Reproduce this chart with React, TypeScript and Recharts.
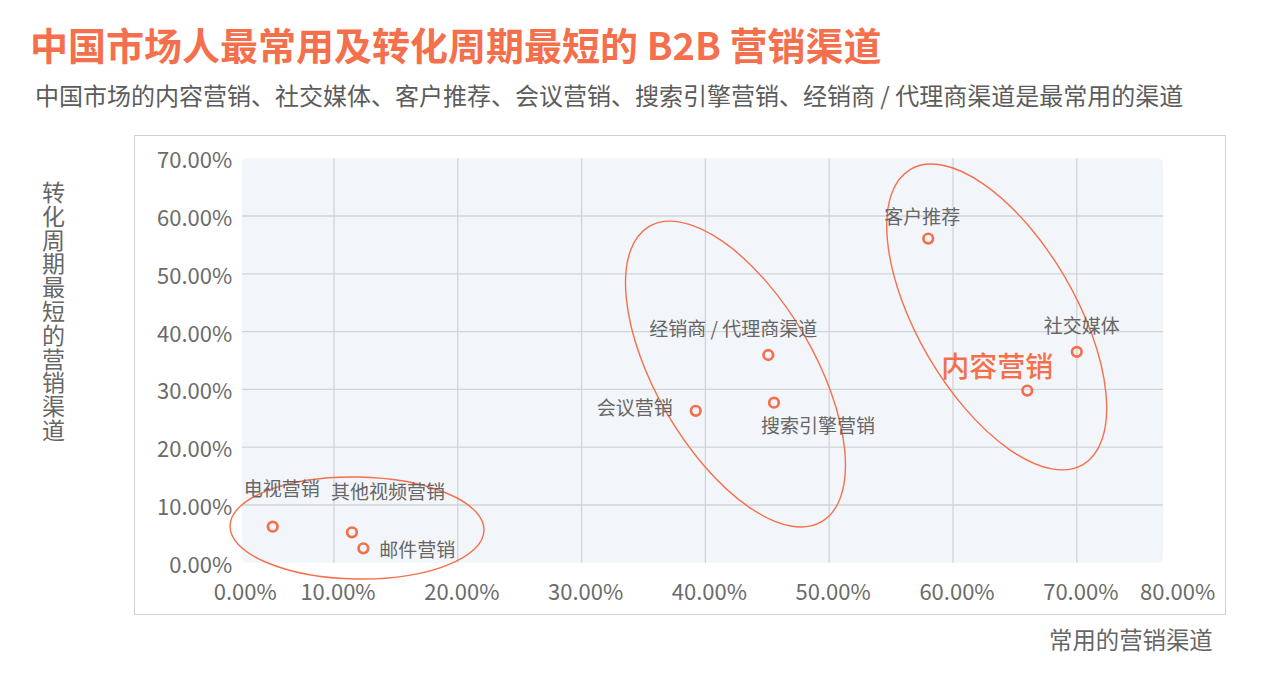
import {
  ScatterChart,
  Scatter,
  XAxis,
  YAxis,
  ReferenceArea,
  ReferenceLine,
} from "recharts";

// channel names, % most used (x) and % shortest conversion cycle (y)
const channels = [
  "电视营销",
  "其他视频营销",
  "邮件营销",
  "会议营销",
  "经销商 / 代理商渠道",
  "搜索引擎营销",
  "客户推荐",
  "内容营销",
  "社交媒体",
];
const mostUsed = [5.05, 11.45, 12.37, 39.22, 45.08, 45.54, 58.0, 66.0, 70.0];
const shortCycle = [6.25, 5.28, 2.51, 26.3, 35.95, 27.7, 56.1, 29.8, 36.5];

const xTicks = [0, 10, 20, 30, 40, 50, 60, 70, 80];
const yTicks = [0, 10, 20, 30, 40, 50, 60, 70];
const xGrid = [10, 20, 30, 40, 50, 60, 70];
const yGrid = [10, 20, 30, 40, 50, 60];

// group outlines (centres in data units)
const groupX = [11.86, 42.43, 63.53];
const groupY = [6.02, 32.66, 42.53];

const ORANGE = "#f4704d";
const GRAY = "#666";
const FONT = '"Noto Sans CJK SC", "Noto Sans", sans-serif';

const PLOT_X0 = 2.57;
const PLOT_X1 = 76.96;

const data = channels.map((name, i) => ({ name, x: mostUsed[i], y: shortCycle[i] }));
const groups = groupX.map((x, i) => ({ x, y: groupY[i], id: i }));

// label placement relative to the point (pixels)
const labelPos: Record<string, { dx: number; dy: number; anchor?: string }> = {
  电视营销: { dx: 9, dy: -39 },
  其他视频营销: { dx: 36, dy: -42 },
  邮件营销: { dx: 16, dy: 0, anchor: "start" },
  会议营销: { dx: -23, dy: -4, anchor: "end" },
  "经销商 / 代理商渠道": { dx: -35, dy: -28 },
  搜索引擎营销: { dx: 44, dy: 22 },
  客户推荐: { dx: -6, dy: -23 },
  内容营销: { dx: -30, dy: -26 },
  社交媒体: { dx: 5, dy: -27 },
};

const groupShape = [
  { rx: 127, ry: 51, rot: 1 },
  { rx: 171, ry: 79, rot: 59.7 },
  { rx: 171, ry: 79, rot: 59.7 },
];

const fmt = (v: number) => `${v.toFixed(2)}%`;

const PointShape = (props: any) => {
  const { cx, cy, payload } = props;
  const p = labelPos[payload.name] || { dx: 0, dy: -20 };
  const big = payload.name === "内容营销";
  return (
    <g>
      <circle cx={cx} cy={cy} r={4.8} fill="none" stroke={ORANGE} strokeWidth={2.7} />
      <text
        x={cx + p.dx}
        y={cy + p.dy}
        textAnchor={p.anchor || "middle"}
        dominantBaseline="central"
        fontFamily={FONT}
        fontSize={big ? 28 : 19}
        fontWeight={big ? 500 : 400}
        fill={big ? ORANGE : GRAY}
      >
        {payload.name}
      </text>
    </g>
  );
};

const GroupShape = (props: any) => {
  const { cx, cy, payload } = props;
  const s = groupShape[payload.id];
  return (
    <ellipse
      cx={cx}
      cy={cy}
      rx={s.rx}
      ry={s.ry}
      transform={`rotate(${s.rot} ${cx} ${cy})`}
      fill="none"
      stroke={ORANGE}
      strokeWidth={1.4}
    />
  );
};

const XTick = (props: any) => {
  const { x, y, payload } = props;
  const v = payload.value;
  const shift = v === 0 ? 35 : v === 80 ? -23 : 4;
  return (
    <text
      x={x + shift}
      y={y + 27}
      textAnchor="middle"
      dominantBaseline="central"
      fontFamily={FONT}
      fontSize={22}
      fill="#6b6b6b"
    >
      {fmt(v)}
    </text>
  );
};

const YTick = (props: any) => {
  const { x, y, payload } = props;
  return (
    <text
      x={x + 22}
      y={y}
      textAnchor="end"
      dominantBaseline="central"
      fontFamily={FONT}
      fontSize={22}
      fill="#6b6b6b"
    >
      {fmt(payload.value)}
    </text>
  );
};

export default function App() {
  return (
    <div
      style={{
        position: "relative",
        width: 1287,
        height: 676,
        background: "#fff",
        fontFamily: FONT,
        overflow: "hidden",
      }}
    >
      <style>{`body{margin:0}`}</style>
      <div
        style={{
          position: "absolute",
          left: 30,
          top: 20,
          fontSize: 38,
          lineHeight: "48px",
          fontWeight: 700,
          color: ORANGE,
          whiteSpace: "nowrap",
        }}
      >
        中国市场人最常用及转化周期最短的 B2B 营销渠道
      </div>
      <div
        style={{
          position: "absolute",
          left: 35,
          top: 80,
          fontSize: 24,
          lineHeight: "30px",
          color: "#5c5c5c",
          whiteSpace: "nowrap",
        }}
      >
        中国市场的内容营销、社交媒体、客户推荐、会议营销、搜索引擎营销、经销商 / 代理商渠道是最常用的渠道
      </div>
      <div
        style={{
          position: "absolute",
          left: 134,
          top: 135,
          width: 1090,
          height: 478,
          border: "1.5px solid #d2d2d2",
        }}
      />
      <div
        style={{
          position: "absolute",
          left: 42,
          top: 180,
          width: 23,
          fontSize: 23,
          lineHeight: "23.8px",
          color: GRAY,
          wordBreak: "break-all",
        }}
      >
        转化周期最短的营销渠道
      </div>
      <div
        style={{
          position: "absolute",
          left: 1049,
          top: 624,
          fontSize: 23.4,
          lineHeight: "30px",
          color: GRAY,
          whiteSpace: "nowrap",
        }}
      >
        常用的营销渠道
      </div>
      <div style={{ position: "absolute", left: 0, top: 0 }}>
        <ScatterChart
          width={1287}
          height={676}
          margin={{ top: 158.2, right: 86.4, left: 110.2, bottom: 73.2 }}
        >
          <XAxis
            type="number"
            dataKey="x"
            domain={[0, 80]}
            ticks={xTicks}
            axisLine={false}
            tickLine={false}
            tickSize={0}
            tickMargin={0}
            height={40}
            tick={<XTick />}
            interval={0}
          />
          <YAxis
            type="number"
            dataKey="y"
            domain={[0, 70]}
            ticks={yTicks}
            axisLine={false}
            tickLine={false}
            tickSize={0}
            tickMargin={0}
            width={100}
            tick={<YTick />}
            interval={0}
          />
          <ReferenceArea
            x1={PLOT_X0}
            x2={PLOT_X1}
            y1={0}
            y2={70}
            fill="#f2f5f9"
            fillOpacity={1}
            stroke="none"
            radius={5}
            ifOverflow="visible"
          />
          {xGrid.map((v) => (
            <ReferenceLine key={`vx${v}`} x={v} stroke="#d1d4d8" strokeWidth={1.3} />
          ))}
          {yGrid.map((v) => (
            <ReferenceLine
              key={`hy${v}`}
              segment={[
                { x: PLOT_X0, y: v },
                { x: PLOT_X1, y: v },
              ]}
              stroke="#d1d4d8"
              strokeWidth={1.3}
            />
          ))}
          <Scatter data={groups} shape={<GroupShape />} isAnimationActive={false} />
          <Scatter data={data} shape={<PointShape />} isAnimationActive={false} />
        </ScatterChart>
      </div>
    </div>
  );
}
